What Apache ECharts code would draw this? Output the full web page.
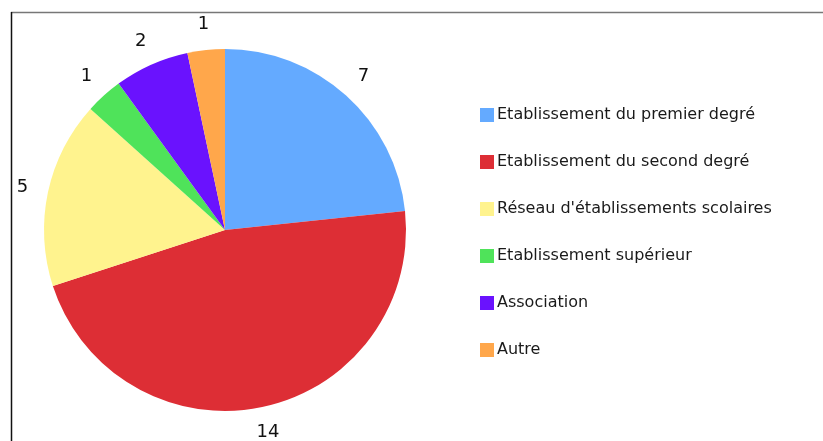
<!DOCTYPE html>
<html>
<head>
<meta charset="utf-8">
<style>
  html, body { margin: 0; padding: 0; background: #fff; }
  #chart { width: 823px; height: 441px; }
</style>
<script src="https://cdn.jsdelivr.net/npm/echarts@6/dist/echarts.min.js"></script>
</head>
<body>
<div id="chart"></div>
<script>
// categories and values
const categories = [
  'Etablissement du premier degré',
  'Etablissement du second degré',
  "Réseau d'établissements scolaires",
  'Etablissement supérieur',
  'Association',
  'Autre'
];
const values = [7, 14, 5, 1, 2, 1];
const colors = ['#64aaff', '#dd2e35', '#fff38e', '#4fe35a', '#6a12fe', '#ffa74b'];

const chart = echarts.init(document.getElementById('chart'));

const pieData = categories.map((name, i) => ({
  name: name,
  value: values[i],
  itemStyle: { color: colors[i] }
}));

// a transparent copy of the pie, only used to put the numbers outside the disc
const labelData = categories.map((name, i) => ({
  name: name,
  value: values[i],
  itemStyle: { color: 'rgba(0,0,0,0)' }
}));

const option = {
  animation: false,
  graphic: [
    { type: 'line', shape: { x1: 11, y1: 12.5, x2: 823, y2: 12.5 }, style: { stroke: '#777', lineWidth: 1.5 } },
    { type: 'line', shape: { x1: 11.5, y1: 12, x2: 11.5, y2: 441 }, style: { stroke: '#111', lineWidth: 1.5 } }
  ],
  legend: {
    orient: 'vertical',
    left: 480,
    top: 107,
    padding: 0,
    itemWidth: 14,
    itemHeight: 14,
    itemGap: 31,
    icon: 'rect',
    data: categories,
    selectedMode: false,
    textStyle: {
      fontFamily: 'DejaVu Sans',
      fontSize: 16,
      color: '#1a1a1a',
      lineHeight: 14,
      padding: [0, 0, 0, -2]
    }
  },
  series: [
    {
      type: 'pie',
      center: [225, 230],
      radius: 181,
      startAngle: 90,
      clockwise: true,
      silent: true,
      label: { show: false },
      labelLine: { show: false },
      data: pieData
    },
    {
      type: 'pie',
      center: [225, 230],
      radius: [0, 408],
      startAngle: 90,
      clockwise: true,
      silent: true,
      z: 1,
      avoidLabelOverlap: false,
      label: {
        show: true,
        position: 'inside',
        formatter: '{c}',
        fontFamily: 'DejaVu Sans',
        fontSize: 18,
        color: '#111'
      },
      labelLine: { show: false },
      data: labelData
    }
  ]
};

chart.setOption(option);
</script>
</body>
</html>
